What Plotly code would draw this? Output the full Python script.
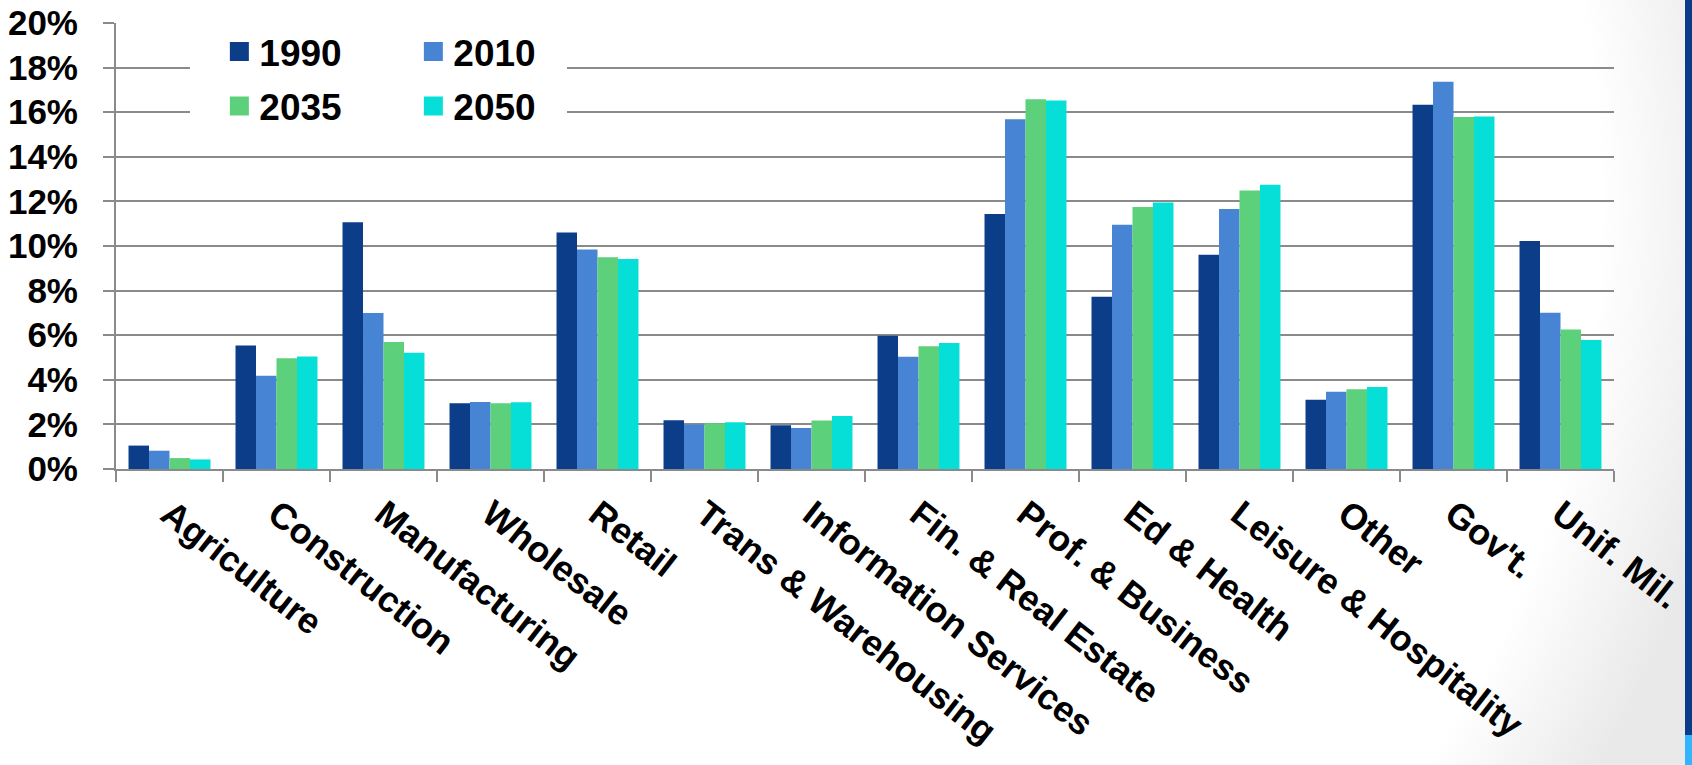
import base64
import plotly.graph_objects as go

# Share of employment by industry (percent)
categories = [
    "Agriculture", "Construction", "Manufacturing", "Wholesale", "Retail",
    "Trans & Warehousing", "Information Services", "Fin. & Real Estate",
    "Prof. & Business", "Ed & Health", "Leisure & Hospitality", "Other",
    "Gov't.", "Unif. Mil.",
]
share_1990 = [1.05, 5.54, 11.06, 2.95, 10.6, 2.19, 1.96, 5.98, 11.43, 7.72, 9.61, 3.10, 16.33, 10.22]
share_2010 = [0.82, 4.18, 7.00, 3.01, 9.84, 1.99, 1.84, 5.03, 15.68, 10.95, 11.66, 3.46, 17.37, 7.01]
share_2035 = [0.49, 4.97, 5.70, 2.95, 9.50, 2.05, 2.17, 5.50, 16.58, 11.75, 12.49, 3.58, 15.78, 6.26]
share_2050 = [0.43, 5.04, 5.21, 2.99, 9.42, 2.10, 2.38, 5.65, 16.53, 11.95, 12.75, 3.68, 15.81, 5.78]

years = ["1990", "2010", "2035", "2050"]
series = [share_1990, share_2010, share_2035, share_2050]
colors = ["#0B3D89", "#4785D4", "#5CD07B", "#06DFD8"]

y_ticks = list(range(0, 21, 2))
y_tick_labels = [f"{v}%" for v in y_ticks]

W, H = 1692, 765
L, R, T, B = 116, 78, 23, 296
PW, PH = W - L - R, H - T - B

FONT = "Liberation Sans, Arial, sans-serif"
GRID = "#8A8A8A"

fig = go.Figure()

for name, vals, col in zip(years, series, colors):
    fig.add_trace(go.Bar(
        x=categories, y=vals, name=name, marker_color=col,
        marker_line_width=0, showlegend=False,
    ))

# legend entries: two rows of two
legend_rows = ["legend", "legend", "legend2", "legend2"]
for name, col, lg in zip(years, colors, legend_rows):
    fig.add_trace(go.Scatter(
        x=[None], y=[None], mode="markers", name=name, legend=lg,
        marker=dict(symbol="square", size=16, color=col,
                    line=dict(color=col, width=3)),
    ))

legend_style = dict(
    orientation="h", bgcolor="rgba(0,0,0,0)", borderwidth=0,
    font=dict(family=FONT, size=37, color="black", weight="bold"),
    entrywidth=149, entrywidthmode="pixels",
    xanchor="left", yanchor="middle", x=0.069,
    itemclick=False, itemdoubleclick=False,
)

# page backdrop: soft grey shading toward the right edge plus side stripe
svg = f"""<svg xmlns='http://www.w3.org/2000/svg' width='{W}' height='{H}' viewBox='0 0 {W} {H}'>
<defs><radialGradient id='g' gradientUnits='userSpaceOnUse' cx='600' cy='200' r='1150'>
<stop offset='0.87' stop-color='#ffffff'/><stop offset='1' stop-color='#e9e9e9'/></radialGradient></defs>
<rect x='0' y='0' width='{W}' height='{H}' fill='url(#g)'/>
<rect x='1685' y='0' width='7' height='735' fill='#0B3C87'/>
<rect x='1685' y='735' width='7' height='30' fill='#33B4FF'/>
</svg>"""
src = "data:image/svg+xml;base64," + base64.b64encode(svg.encode()).decode()

fig.update_layout(
    width=W, height=H,
    margin=dict(l=L, r=R, t=T, b=B, autoexpand=False),
    paper_bgcolor="white", plot_bgcolor="rgba(0,0,0,0)",
    barmode="group", bargap=0.234, bargroupgap=0,
    font=dict(family=FONT, color="black"),
    legend=dict(legend_style, y=1 - (52 - T) / PH),
    legend2=dict(legend_style, y=1 - (106.5 - T) / PH),
    images=[dict(
        source=src, xref="paper", yref="paper",
        x=-L / PW, y=1 + T / PH, sizex=W / PW, sizey=H / PH,
        xanchor="left", yanchor="top", sizing="stretch", layer="below",
    )],
    # white panel behind the legend that masks the gridlines
    shapes=[dict(
        type="rect", layer="above", xref="paper", yref="y",
        x0=(190 - L) / PW, x1=(567 - L) / PW, y0=14.8, y1=19.6,
        fillcolor="white", line_width=0,
    )],
    xaxis=dict(
        type="category", tickangle=38, tickson="boundaries",
        ticks="outside", ticklen=11, tickwidth=2, tickcolor=GRID,
        showline=True, linecolor=GRID, linewidth=2,
        showgrid=False, automargin=False, ticklabelstandoff=8,
        tickfont=dict(family=FONT, size=36, color="black", weight="bold"),
    ),
    yaxis=dict(
        range=[0, 20], tickvals=y_ticks, ticktext=y_tick_labels,
        ticks="outside", ticklen=11, tickwidth=2, tickcolor=GRID,
        showline=True, linecolor=GRID, linewidth=2,
        showgrid=True, gridcolor=GRID, gridwidth=2,
        zeroline=False, automargin=False, ticklabelstandoff=18,
        tickfont=dict(family=FONT, size=35, color="black", weight="bold"),
    ),
)

fig.write_html("out.html")
